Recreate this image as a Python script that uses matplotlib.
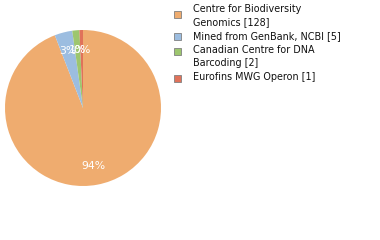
import math
import matplotlib
matplotlib.use("Agg")
import matplotlib.pyplot as plt
from matplotlib.patches import Rectangle

labels = ["Centre for Biodiversity\nGenomics [128]",
          "Mined from GenBank, NCBI [5]",
          "Canadian Centre for DNA\nBarcoding [2]",
          "Eurofins MWG Operon [1]"]
counts = [128, 5, 2, 1]
colors = ["#EFAC6F", "#9CBDE0", "#9DC66E", "#E0725A"]

total = sum(counts)
pct_labels = ["%d%%" % math.floor(c * 100 / total) for c in counts]

fig = plt.figure(figsize=(3.8, 2.4), dpi=100)

# pie: centre ~(83,108) px, radius ~78 px
ax = fig.add_axes([5 / 380, 1 - 186 / 240, 156 / 380, 156 / 240])
wedges, _ = ax.pie(counts, colors=colors, startangle=90, counterclock=False,
                   radius=1.0, wedgeprops=dict(linewidth=0))
for w, txt in zip(wedges, pct_labels):
    ang = math.radians((w.theta1 + w.theta2) / 2)
    ax.text(0.75 * math.cos(ang), 0.75 * math.sin(ang), txt, color="white",
            fontsize=7.8, ha="center", va="center")
ax.set_xlim(-1, 1)
ax.set_ylim(-1, 1)
ax.set_aspect("equal")
ax.axis("off")

# legend drawn in pixel coords
lg = fig.add_axes([0, 0, 1, 1])
lg.set_xlim(0, 380)
lg.set_ylim(240, 0)
lg.axis("off")
marker_y = [14.6, 36.3, 51.3, 78]
text_y = [15.3, 36, 56.5, 77.5]
for lab, col, my, ty in zip(labels, colors, marker_y, text_y):
    lg.add_patch(Rectangle((173.5, my - 3.5), 7, 7, facecolor=col,
                           edgecolor="#808080", linewidth=0.6))
    lg.text(193, ty, lab, fontsize=6.9, va="center", ha="left",
            color="#111111", linespacing=1.35)

fig.savefig("out.png", dpi=100)
